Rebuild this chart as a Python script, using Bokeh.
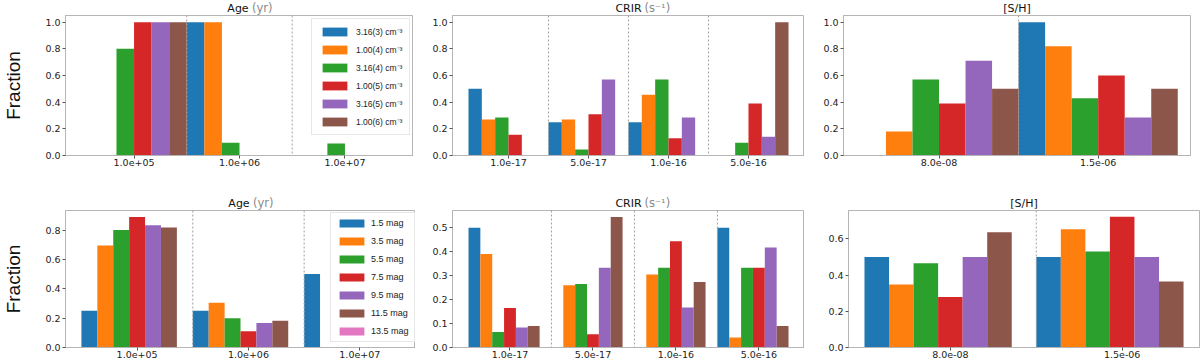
from bokeh.plotting import figure
from bokeh.layouts import column, row
from bokeh.models import (FixedTicker, PrintfTickFormatter, Span, Label, Legend,
                          LegendItem, Range1d)
from bokeh.embed import file_html
from bokeh.resources import INLINE

# ---------------- data ----------------
COLORS = ["#1f77b4", "#ff7f0e", "#2ca02c", "#d62728", "#9467bd", "#8c564b", "#e377c2"]

density_labels = ["3.16(3) cm⁻³", "1.00(4) cm⁻³", "3.16(4) cm⁻³",
                  "1.00(5) cm⁻³", "3.16(5) cm⁻³", "1.00(6) cm⁻³"]
extinction_labels = ["1.5 mag", "3.5 mag", "5.5 mag", "7.5 mag",
                     "9.5 mag", "11.5 mag", "13.5 mag"]

age_ticks = ["1.0e+05", "1.0e+06", "1.0e+07"]
crir_ticks = ["1.0e-17", "5.0e-17", "1.0e-16", "5.0e-16"]
sh_ticks = ["8.0e-08", "1.5e-06"]

# top row: one list per density (fraction per tick category)
age_by_density = [
    [0.0, 1.0, 0.0],
    [0.0, 1.0, 0.0],
    [0.8, 0.095, 0.09],
    [1.0, 0.0, 0.0],
    [1.0, 0.0, 0.0],
    [1.0, 0.0, 0.0],
]
crir_by_density = [
    [0.5, 0.25, 0.25, 0.0],
    [0.27, 0.27, 0.455, 0.0],
    [0.285, 0.045, 0.57, 0.095],
    [0.155, 0.31, 0.13, 0.39],
    [0.0, 0.57, 0.285, 0.14],
    [0.0, 0.0, 0.0, 1.0],
]
sh_by_density = [
    [0.0, 1.0],
    [0.18, 0.82],
    [0.57, 0.43],
    [0.39, 0.6],
    [0.71, 0.285],
    [0.5, 0.5],
]

# bottom row: one list per extinction (13.5 mag shows no bars)
age_by_extinction = [
    [0.25, 0.25, 0.5],
    [0.695, 0.305, 0.0],
    [0.8, 0.2, 0.0],
    [0.889, 0.111, 0.0],
    [0.833, 0.167, 0.0],
    [0.818, 0.182, 0.0],
    [0.0, 0.0, 0.0],
]
crir_by_extinction = [
    [0.5, 0.0, 0.0, 0.5],
    [0.39, 0.26, 0.305, 0.042],
    [0.065, 0.265, 0.333, 0.333],
    [0.165, 0.055, 0.444, 0.333],
    [0.083, 0.333, 0.167, 0.417],
    [0.09, 0.545, 0.273, 0.09],
    [0.0, 0.0, 0.0, 0.0],
]
sh_by_extinction = [
    [0.5, 0.5],
    [0.348, 0.652],
    [0.465, 0.53],
    [0.278, 0.722],
    [0.5, 0.5],
    [0.636, 0.364],
    [0.0, 0.0],
]

TICK_FONT = "DejaVu Sans"
FULL_W = 1200


def make_panel(series, labels, nslots, ticks, x_range, y_end, y_ticks,
               geom, height, bt, bb, ylabel=False, legend=None):
    bl, fw, br = geom
    p = figure(width=bl + fw + br, height=height, output_backend="svg",
               toolbar_location=None,
               x_range=Range1d(*x_range), y_range=Range1d(0, y_end),
               min_border_left=bl, min_border_right=br,
               min_border_top=bt, min_border_bottom=bb)
    p.background_fill_color = "white"
    p.border_fill_color = "white"
    p.outline_line_color = "#b5b5b5"
    p.xgrid.visible = False
    p.ygrid.visible = False

    renderers = []
    for i, vals in enumerate(series):
        xs = [g - 0.5 + (i + 0.5) / nslots for g in range(len(vals))]
        r = p.vbar(x=xs, top=vals, width=1.0 / nslots,
                   fill_color=COLORS[i], line_color=None)
        renderers.append(r)

    for g in range(len(ticks) - 1):
        p.add_layout(Span(location=g + 0.5, dimension="height",
                          line_color="#a0a0a0", line_dash="2 2", line_width=1))

    p.xaxis.ticker = FixedTicker(ticks=list(range(len(ticks))))
    p.xaxis.major_label_overrides = {i: t for i, t in enumerate(ticks)}
    p.yaxis.ticker = FixedTicker(ticks=y_ticks)
    p.yaxis.formatter = PrintfTickFormatter(format="%.1f")
    for ax in (p.xaxis, p.yaxis):
        ax.minor_tick_line_color = None
        ax.major_tick_in = 0
        ax.major_tick_out = 3
        ax.axis_line_color = "#b5b5b5"
        ax.major_tick_line_color = "#555555"
        ax.major_label_text_font = TICK_FONT
        ax.major_label_text_font_size = "9.5px"
        ax.major_label_text_color = "#222222"
    p.xaxis.major_label_standoff = 0
    p.yaxis.major_label_standoff = 2

    if ylabel:
        p.yaxis.axis_label = "Fraction"
        p.yaxis.axis_label_text_font = "Liberation Sans"
        p.yaxis.axis_label_text_font_size = "19px"
        p.yaxis.axis_label_text_font_style = "normal"
        p.yaxis.axis_label_text_color = "#111111"
        p.yaxis.axis_label_standoff = 18

    if legend is not None:
        loc, gw, gh, sp, pad, fs, standoff = legend
        items = [LegendItem(label=labels[i], renderers=[renderers[i]])
                 for i in range(len(labels))]
        leg = Legend(items=items, location=loc, glyph_width=gw, glyph_height=gh,
                     label_height=gh, spacing=sp, padding=pad, margin=0,
                     label_standoff=standoff,
                     label_text_font="Liberation Sans", label_text_font_size=fs,
                     label_text_color="#222222",
                     border_line_color="#d0d0d0", border_line_width=1,
                     background_fill_color="white", background_fill_alpha=1.0)
        p.add_layout(leg, "center")
    return p


def title_strip(height, geoms, titles):
    s = figure(width=FULL_W, height=height, output_backend="svg",
               toolbar_location=None, x_range=Range1d(0, FULL_W),
               y_range=Range1d(0, height), x_axis_type=None, y_axis_type=None,
               min_border_left=0, min_border_right=0,
               min_border_top=0, min_border_bottom=0)
    s.outline_line_color = None
    s.xgrid.visible = False
    s.ygrid.visible = False
    s.background_fill_color = "white"
    s.border_fill_color = "white"
    left = 0
    ymid = height / 2.0
    for (bl, fw, br), (main, unit, half) in zip(geoms, titles):
        cx = left + bl + fw / 2.0
        s.add_layout(Label(x=cx, y=ymid, text=main, text_align="center",
                           text_baseline="middle",
                           text_font=TICK_FONT, text_font_size="11px",
                           text_color="#111111"))
        if unit:
            s.add_layout(Label(x=cx + half + 3, y=ymid, text=unit, text_align="left",
                               text_baseline="middle",
                               text_font=TICK_FONT, text_font_size="11.5px",
                               text_color="#8a8a8a"))
        left += bl + fw + br
    return s


# panel geometry: (left border, frame width, right border)
top_geoms = [(62, 351, 0), (39, 352, 0), (39, 347, 10)]
bot_geoms = [(62, 353, 0), (37, 352, 0), (44, 351, 1)]
titles = [("Age", "(yr)", 11), ("CRIR", "(s⁻¹)", 13), ("[S/H]", None, 0)]

STRIP_H = 15
H1, BB1 = 180, 40   # frame 140
H2, BB2 = 151, 14   # frame 137

f1 = make_panel(age_by_density, density_labels, 6, age_ticks, (-0.65, 2.65), 1.05,
                [0, 0.2, 0.4, 0.6, 0.8, 1.0], top_geoms[0], H1, 0, BB1, ylabel=True,
                legend=((246, 20), 31, 11, 7, 7, "8.5px", 6))
f2 = make_panel(crir_by_density, density_labels, 6, crir_ticks, (-0.7, 3.7), 1.05,
                [0, 0.2, 0.4, 0.6, 0.8, 1.0], top_geoms[1], H1, 0, BB1)
f3 = make_panel(sh_by_density, density_labels, 6, sh_ticks, (-0.6, 1.58), 1.05,
                [0, 0.2, 0.4, 0.6, 0.8, 1.0], top_geoms[2], H1, 0, BB1)

f4 = make_panel(age_by_extinction, extinction_labels, 7, age_ticks, (-0.643, 2.5), 0.933,
                [0, 0.2, 0.4, 0.6, 0.8], bot_geoms[0], H2, 0, BB2, ylabel=True,
                legend=((265, 5), 31, 10, 8, 5, "9px", 4))
f5 = make_panel(crir_by_extinction, extinction_labels, 7, crir_ticks, (-0.693, 3.55), 0.572,
                [0, 0.1, 0.2, 0.3, 0.4, 0.5], bot_geoms[1], H2, 0, BB2)
f6 = make_panel(sh_by_extinction, extinction_labels, 7, sh_ticks, (-0.593, 1.45), 0.756,
                [0, 0.2, 0.4, 0.6], bot_geoms[2], H2, 0, BB2)

strip1 = title_strip(STRIP_H, top_geoms, titles)
strip2 = title_strip(STRIP_H, bot_geoms, titles)

layout = column(strip1, row(f1, f2, f3), strip2, row(f4, f5, f6))

open("out.html", "w").write(file_html(layout, INLINE))
